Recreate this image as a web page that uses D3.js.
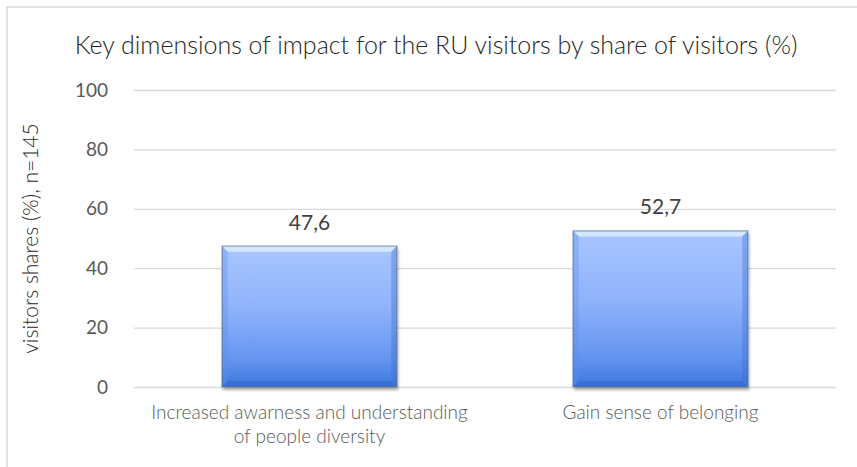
<!DOCTYPE html>
<html>
<head>
<meta charset="utf-8">
<script src="https://cdn.jsdelivr.net/npm/d3@7"></script>
<style>
  html, body { margin: 0; padding: 0; background: #fff; }
  svg { display: block; }
  text { font-family: Lato, "Open Sans", sans-serif; font-weight: 300; }
</style>
</head>
<body>
<div id="chart"></div>
<script>
// Chart content
const chartTitle = "Key dimensions of impact for the RU visitors by share of visitors (%)";
const yAxisTitle = "visitors shares (%), n=145";
const categories = [
  ["Increased awarness and understanding", "of people diversity"],
  ["Gain sense of belonging"]
];
const categoryKeys = ["awareness", "belonging"];
const shares = [47.6, 52.7];
const valueLabels = ["47,6", "52,7"];
const yTicks = [0, 20, 40, 60, 80, 100];

const W = 857, H = 467;
const plot = { left: 134, right: 836, top: 90, bottom: 387 };

const svg = d3.select("#chart").append("svg")
  .attr("width", W).attr("height", H);

const defs = svg.append("defs");

// Vertical fill of the bar body: pale blue at the top to deep blue at the base
const grad = defs.append("linearGradient")
  .attr("id", "barFill").attr("x1", 0).attr("y1", 0).attr("x2", 0).attr("y2", 1);
[[0, "#a9c6ff"], [0.45, "#8fb2fb"], [0.8, "#6595f0"], [1, "#3f77de"]]
  .forEach(([o, c]) => grad.append("stop").attr("offset", o).attr("stop-color", c));

const shadow = defs.append("filter").attr("id", "barShadow")
  .attr("x", "-10%").attr("y", "-10%").attr("width", "120%").attr("height", "130%");
shadow.append("feGaussianBlur").attr("in", "SourceAlpha").attr("stdDeviation", 1.6);
shadow.append("feOffset").attr("dx", 1).attr("dy", 2.5).attr("result", "off");
shadow.append("feComponentTransfer").append("feFuncA").attr("type", "linear").attr("slope", 0.35);
const merge = shadow.append("feMerge");
merge.append("feMergeNode");
merge.append("feMergeNode").attr("in", "SourceGraphic");

// Outer frame of the chart area
svg.append("rect")
  .attr("x", 7).attr("y", 7).attr("width", W).attr("height", H)
  .attr("fill", "#fff").attr("stroke", "#d9d9d9").attr("stroke-width", 1.5);

const x = d3.scaleBand()
  .domain(categoryKeys)
  .range([plot.left, plot.right])
  .paddingInner(0.5).paddingOuter(0.25);

const y = d3.scaleLinear().domain([0, 100]).range([plot.bottom, plot.top]);

// Horizontal gridlines and tick labels
const yAxis = d3.axisLeft(y).tickValues(yTicks).tickSize(-(plot.right - plot.left)).tickPadding(26);
const gy = svg.append("g").attr("transform", `translate(${plot.left},0)`).call(yAxis);
gy.select(".domain").remove();
gy.selectAll(".tick line").attr("stroke", "#d9d9d9").attr("stroke-width", 1.3);
gy.selectAll(".tick text")
  .attr("fill", "#595959").style("font-size", "19px")
  .style("font-family", "Lato, sans-serif").style("font-weight", 400);

// Bars with bevelled edges
const bars = svg.append("g").selectAll("g.bar")
  .data(categoryKeys.map((k, i) => ({ key: k, value: shares[i], label: valueLabels[i] })))
  .join("g").attr("class", "bar");

bars.each(function(d) {
  const g = d3.select(this);
  const x0 = x(d.key), w = x.bandwidth();
  const y0 = y(d.value), y1 = y(0);
  const b = 6;
  g.append("rect")
    .attr("x", x0).attr("y", y0).attr("width", w).attr("height", y1 - y0)
    .attr("fill", "url(#barFill)").attr("filter", "url(#barShadow)");
  // top bevel (highlight)
  g.append("path")
    .attr("d", `M${x0},${y0} L${x0 + w},${y0} L${x0 + w - b},${y0 + b} L${x0 + b},${y0 + b} Z`)
    .attr("fill", "#d6ecff").attr("opacity", 0.9);
  // left bevel
  g.append("path")
    .attr("d", `M${x0},${y0} L${x0 + b},${y0 + b} L${x0 + b},${y1 - b} L${x0},${y1} Z`)
    .attr("fill", "#5f8fe6").attr("opacity", 0.35);
  // right bevel
  g.append("path")
    .attr("d", `M${x0 + w},${y0} L${x0 + w},${y1} L${x0 + w - b},${y1 - b} L${x0 + w - b},${y0 + b} Z`)
    .attr("fill", "#3a6bc8").attr("opacity", 0.35);
  // bottom bevel
  g.append("path")
    .attr("d", `M${x0},${y1} L${x0 + w},${y1} L${x0 + w - b},${y1 - b} L${x0 + b},${y1 - b} Z`)
    .attr("fill", "#2f66cc").attr("opacity", 0.55);
  g.append("rect")
    .attr("x", x0 + 0.5).attr("y", y0 + 0.5).attr("width", w - 1).attr("height", y1 - y0 - 1)
    .attr("fill", "none").attr("stroke", "#5b6f92").attr("stroke-width", 1).attr("opacity", 0.7);
  // value label
  g.append("text")
    .attr("x", x0 + w / 2).attr("y", y0 - 16)
    .attr("text-anchor", "middle")
    .attr("fill", "#404040").style("font-size", "21px").style("font-weight", 400)
    .text(d.label);
});

// Category labels under each bar
categoryKeys.forEach((k, i) => {
  const t = svg.append("text")
    .attr("x", x(k) + x.bandwidth() / 2).attr("y", 419)
    .attr("text-anchor", "middle").attr("fill", "#595959")
    .style("font-size", "19px");
  categories[i].forEach((line, j) => {
    t.append("tspan").attr("x", x(k) + x.bandwidth() / 2).attr("dy", j === 0 ? 0 : 24).text(line);
  });
});

// Rotated y-axis title
svg.append("text")
  .attr("transform", `translate(38,${(plot.top + plot.bottom) / 2}) rotate(-90)`)
  .attr("text-anchor", "middle").attr("fill", "#262626")
  .style("font-size", "21px")
  .text(yAxisTitle);

// Chart title
svg.append("text")
  .attr("x", 436).attr("y", 54)
  .attr("text-anchor", "middle").attr("fill", "#262626")
  .style("font-size", "25px")
  .text(chartTitle);
</script>
</body>
</html>
